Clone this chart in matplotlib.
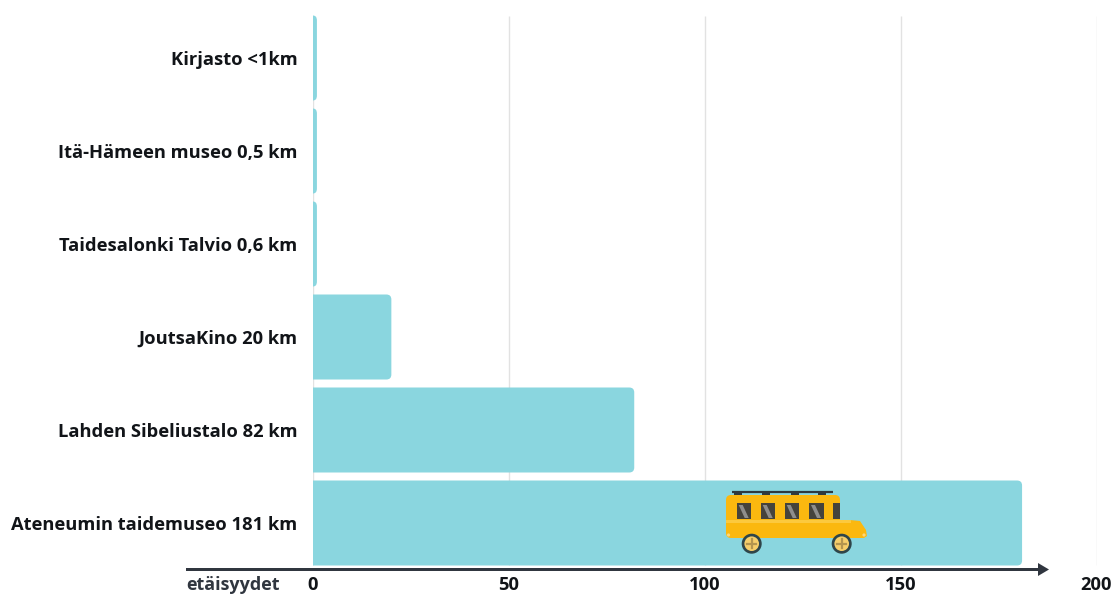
import matplotlib
matplotlib.use("Agg")
import matplotlib.pyplot as plt
from matplotlib.path import Path
from matplotlib.patches import PathPatch, Rectangle, Circle, Polygon, FancyBboxPatch

categories = ["Kirjasto <1km", "Itä-Hämeen museo 0,5 km", "Taidesalonki Talvio 0,6 km",
              "JoutsaKino 20 km", "Lahden Sibeliustalo 82 km", "Ateneumin taidemuseo 181 km"]
values = [1.0, 1.0, 1.0, 20, 82, 181]
xticks = [0, 50, 100, 150, 200]
axis_label = "etäisyydet"

W, H = 1115, 595
BAR = "#8AD6DF"
INK = "#111418"
DARK = "#30363F"
FONT = ["Open Sans", "DejaVu Sans"]
plt.rcParams["font.family"] = FONT

fig = plt.figure(figsize=(W / 100, H / 100), dpi=100)
L, R, T, B = 313, 1096.5, 11.5, 569.5
ax = fig.add_axes([L / W, 1 - B / H, (R - L) / W, (B - T) / H])
ax.set_xlim(0, 200)
ax.set_ylim(len(categories) - 0.5, -0.5)
for s in ax.spines.values():
    s.set_visible(False)
ax.set_xticks(xticks)
ax.set_yticks(range(len(categories)))
ax.set_yticklabels(categories, fontsize=13.25, fontweight="bold", color=INK)
ax.tick_params(length=0, axis="y", pad=11)
ax.tick_params(length=0, axis="x", pad=4.5, labelsize=13.2, labelcolor=INK)
for t in ax.get_xticklabels():
    t.set_fontweight("bold")
ax.grid(False)
for x in xticks:
    ax.plot([x, x], [-0.45, 5.45], color="#E2E2E2", lw=1, zorder=1, solid_capstyle="butt")

h = 0.914
rx_px, ry_px = 5.0, 5.0
xu = (R - L) / 200
yu = (B - T) / 6
for i, v in enumerate(values):
    rx = min(rx_px / xu, v)
    ry = ry_px / yu
    t, b = i - h / 2, i + h / 2
    verts = [(0, t), (v - rx, t), (v, t), (v, t + ry), (v, b - ry), (v, b), (v - rx, b), (0, b), (0, t)]
    codes = [Path.MOVETO, Path.LINETO, Path.CURVE3, Path.CURVE3, Path.LINETO, Path.CURVE3, Path.CURVE3,
             Path.LINETO, Path.CLOSEPOLY]
    ax.add_patch(PathPatch(Path(verts, codes), fc=BAR, ec="none", zorder=2))

# overlay in pixel coordinates: axis arrow and bus icon
ov = fig.add_axes([0, 0, 1, 1], facecolor="none")
ov.set_xlim(0, W)
ov.set_ylim(H, 0)
ov.axis("off")
ov.add_patch(Rectangle((186, 568), 852, 3, fc=DARK, ec="none"))
ov.add_patch(Polygon([(1038, 563), (1049, 569.5), (1038, 576)], fc=DARK, ec="none"))
ov.text(186, 585, axis_label, fontsize=13, fontweight="bold", color=DARK, va="center", ha="left")

Y = "#FBB80F"
ov.plot([732, 833], [491.5, 491.5], color="#2E3A3F", lw=1.6, solid_capstyle="butt", zorder=5)
for x in (738, 766, 795, 822):
    ov.add_patch(Rectangle((x - 4, 491.5), 8, 3, fc="#2E3A3F", ec="none", zorder=5))
ov.add_patch(FancyBboxPatch((730, 499), 106, 35, boxstyle="round,pad=4,rounding_size=5", fc=Y, ec="none", zorder=5))
hood = [(820, 520), (850, 520), (860, 521), (866, 530), (867, 536), (864, 538), (820, 538)]
ov.add_patch(Polygon(hood, fc=Y, ec="none", zorder=5))
ov.add_patch(Rectangle((726, 519.5), 125, 3, fc="#FCC93E", ec="none", zorder=6))
for x in (736.7, 760.7, 784.7, 809):
    ov.add_patch(Rectangle((x, 503.3), 14.6, 16, fc="#45433C", ec="none", zorder=6))
    ov.add_patch(Polygon([(x + 2, 505), (x + 6, 505), (x + 12, 518), (x + 8, 518)], fc="#8F8E8C", ec="none", zorder=7))
ov.add_patch(Rectangle((833, 503.3), 7, 16, fc="#45433C", ec="none", zorder=6))
ov.add_patch(Circle((728.5, 535), 1.6, fc="#FDD77A", ec="none", zorder=7))
ov.add_patch(Circle((864, 535), 1.6, fc="#FDD77A", ec="none", zorder=7))
for cx in (751.7, 841.7):
    ov.add_patch(Circle((cx, 543.7), 10, fc="#2F4549", ec="none", zorder=8))
    ov.add_patch(Circle((cx, 543.7), 7.3, fc="#F6CE6A", ec="none", zorder=9))
    ov.plot([cx - 4.5, cx + 4.5], [543.7, 543.7], color="#B4954F", lw=1.6, zorder=10)
    ov.plot([cx, cx], [539.2, 548.2], color="#B4954F", lw=1.6, zorder=10)

fig.savefig("out.png", dpi=100, facecolor="white")
